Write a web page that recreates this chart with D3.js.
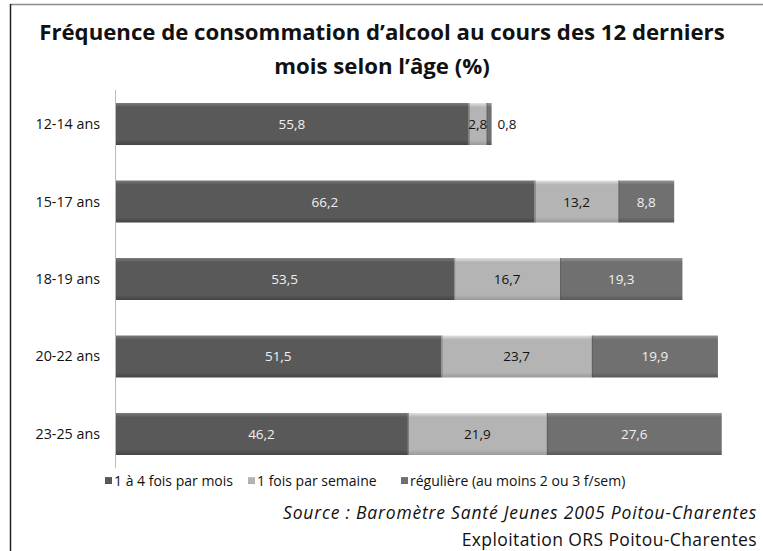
<!DOCTYPE html>
<html lang="fr">
<head>
<meta charset="UTF-8">
<title>Fréquence de consommation d'alcool</title>
<script src="https://d3js.org/d3.v7.min.js"></script>
<style>
    body { margin: 0; background: white; }
    svg { display: block; font-family: "Open Sans", "Noto Sans", sans-serif; }
</style>
</head>
<body>
<svg id="chart"></svg>
<script>
    const width = 763, height = 551;

    const categories = ["12-14 ans", "15-17 ans", "18-19 ans", "20-22 ans", "23-25 ans"];
    const seriesNames = ["1 à 4 fois par mois", "1 fois par semaine", "régulière (au moins 2 ou 3 f/sem)"];
    const mensuel = [55.8, 66.2, 53.5, 51.5, 46.2];
    const hebdo = [2.8, 13.2, 16.7, 23.7, 21.9];
    const reguliere = [0.8, 8.8, 19.3, 19.9, 27.6];

    const fills = [
        { top: "#7a7a7a", mid: "#595959", bot: "#444", text: "#f0f0f0" },
        { top: "#e2e2e2", mid: "#b4b4b4", bot: "#999", text: "#111" },
        { top: "#959595", mid: "#707070", bot: "#585858", text: "#f0f0f0" }
    ];

    const svg = d3.select("#chart").attr("width", width).attr("height", height);

    // frame
    svg.append("line").attr("x1", 10).attr("x2", width).attr("y1", 4.5).attr("y2", 4.5)
        .attr("stroke", "#8c8c8c").attr("stroke-width", 1.5);
    svg.append("line").attr("x1", 10.5).attr("x2", 10.5).attr("y1", 4).attr("y2", height)
        .attr("stroke", "#222").attr("stroke-width", 1.5);

    // title
    svg.append("text").attr("x", 382).attr("y", 40).attr("text-anchor", "middle")
        .attr("font-size", 22.2).attr("font-weight", "bold").attr("fill", "#111")
        .text("Fréquence de consommation d’alcool au cours des 12 derniers");
    svg.append("text").attr("x", 382).attr("y", 74).attr("text-anchor", "middle")
        .attr("font-size", 22.2).attr("font-weight", "bold").attr("fill", "#111")
        .text("mois selon l’âge (%)");

    const x = d3.scaleLinear().domain([0, 100]).range([115, 749]);
    const y = d3.scaleBand().domain(categories).range([90, 468]).paddingInner(0.458).paddingOuter(0.168);

    const defs = svg.append("defs");
    fills.forEach((f, i) => {
        const g = defs.append("linearGradient").attr("id", "g" + i)
            .attr("x1", 0).attr("x2", 0).attr("y1", 0).attr("y2", 1);
        g.append("stop").attr("offset", "0%").attr("stop-color", f.top);
        g.append("stop").attr("offset", "10%").attr("stop-color", f.mid);
        g.append("stop").attr("offset", "88%").attr("stop-color", f.mid);
        g.append("stop").attr("offset", "100%").attr("stop-color", f.bot);
    });

    const rows = categories.map((c, i) => {
        const vals = [mensuel[i], hebdo[i], reguliere[i]];
        let acc = 0;
        return vals.map((v, s) => {
            const seg = { cat: c, s: s, v: v, x0: acc, x1: acc + v };
            acc += v;
            return seg;
        });
    }).flat();

    svg.append("g").selectAll("rect")
        .data(rows)
        .join("rect")
        .attr("x", d => x(d.x0))
        .attr("y", d => y(d.cat))
        .attr("width", d => x(d.x1) - x(d.x0))
        .attr("height", y.bandwidth())
        .attr("fill", d => "url(#g" + d.s + ")");

    // thin separators between segments
    svg.append("g").selectAll("line")
        .data(rows.filter(d => d.s > 0))
        .join("line")
        .attr("x1", d => x(d.x0) + 0.5).attr("x2", d => x(d.x0) + 0.5)
        .attr("y1", d => y(d.cat)).attr("y2", d => y(d.cat) + y.bandwidth())
        .attr("stroke", "#4a4a4a").attr("stroke-opacity", 0.5);

    // value labels
    svg.append("g").selectAll("text")
        .data(rows)
        .join("text")
        .attr("x", d => d.v < 2 ? x(d.x1) + 6 : x((d.x0 + d.x1) / 2))
        .attr("y", d => y(d.cat) + y.bandwidth() / 2 + 5)
        .attr("text-anchor", d => d.v < 2 ? "start" : "middle")
        .attr("font-size", 13.5)
        .attr("fill", d => d.v < 2 ? "#111" : fills[d.s].text)
        .text(d => d3.format(".1f")(d.v).replace(".", ","));

    // y axis
    svg.append("line").attr("x1", 115.5).attr("x2", 115.5).attr("y1", 90).attr("y2", 468)
        .attr("stroke", "#bbb");
    svg.append("g").selectAll("text")
        .data(categories)
        .join("text")
        .attr("x", 100)
        .attr("y", d => y(d) + y.bandwidth() / 2 + 5)
        .attr("text-anchor", "end")
        .attr("font-size", 14.3)
        .attr("fill", "#111")
        .text(d => d);

    // legend
    const legendX = [105, 248, 401];
    const legend = svg.append("g").selectAll("g")
        .data(seriesNames)
        .join("g")
        .attr("transform", (d, i) => `translate(${legendX[i]},476)`);
    legend.append("rect").attr("width", 7).attr("height", 7).attr("y", 1)
        .attr("fill", (d, i) => "url(#g" + i + ")");
    legend.append("text").attr("x", 9).attr("y", 9.5).attr("font-size", 14).attr("fill", "#111")
        .text(d => d);

    // source
    svg.append("text").attr("x", 757).attr("y", 519).attr("text-anchor", "end")
        .attr("font-size", 17.5).attr("font-style", "italic").attr("fill", "#111")
        .attr("letter-spacing", 0.8)
        .text("Source : Baromètre Santé Jeunes 2005 Poitou-Charentes");
    svg.append("text").attr("x", 757).attr("y", 546).attr("text-anchor", "end")
        .attr("font-size", 17.5).attr("fill", "#111")
        .attr("letter-spacing", 0.4)
        .text("Exploitation ORS Poitou-Charentes");
</script>
</body>
</html>
